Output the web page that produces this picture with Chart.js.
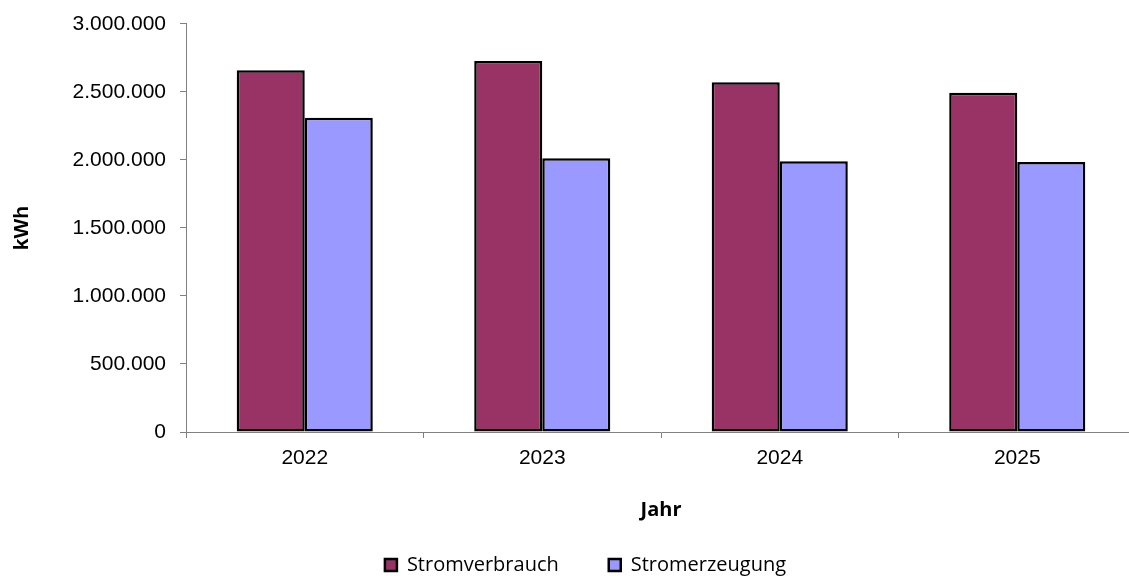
<!DOCTYPE html>
<html lang="de">
<head>
<meta charset="utf-8">
<title>Stromverbrauch und Stromerzeugung</title>
<script src="https://cdn.jsdelivr.net/npm/chart.js@4/dist/chart.umd.min.js"></script>
<style>
  html, body { margin: 0; padding: 0; background: #fff; overflow: hidden; }
  #wrap { position: relative; width: 1136px; height: 576px; }
</style>
</head>
<body>
<div id="wrap"><canvas id="energy-chart"></canvas></div>
<script>
const years = ["2022", "2023", "2024", "2025"];
const consumption = [2660000, 2728000, 2572000, 2495000];
const production = [2310000, 2013000, 1990000, 1985000];
const yTicks = [0, 500000, 1000000, 1500000, 2000000, 2500000, 3000000];

// deutsche Tausenderpunkte
function fmt(v) {
  return String(v).replace(/\B(?=(\d{3})+(?!\d))/g, ".");
}

// Legende etwas flacher machen, damit sie unten sitzt
const legendHeight = {
  id: "legendHeight",
  beforeLayout(chart) {
    const lg = chart.legend;
    if (!lg || lg._patched) return;
    const orig = lg.fit;
    lg.fit = function () {
      orig.call(this);
      this.height = 71;
    };
    lg._patched = true;
  },
};

const ctx = document.getElementById("energy-chart").getContext("2d");
new Chart(ctx, {
  type: "bar",
  data: {
    labels: years,
    datasets: [
      {
        label: "Stromverbrauch",
        data: consumption,
        backgroundColor: "#993366",
        borderColor: "#000000",
        borderWidth: 2.5,
        borderSkipped: false,
      },
      {
        label: "Stromerzeugung",
        data: production,
        backgroundColor: "#9999FF",
        borderColor: "#000000",
        borderWidth: 2.5,
        borderSkipped: false,
      },
    ],
  },
  options: {
    responsive: true,
    maintainAspectRatio: false,
    animation: false,
    layout: { padding: { left: 35, top: 18, right: 0, bottom: 0 } },
    datasets: { bar: { categoryPercentage: 0.573, barPercentage: 1 } },
    plugins: {
      tooltip: { enabled: false },
      legend: {
        position: "bottom",
        labels: {
          boxWidth: 12,
          boxHeight: 12,
          padding: 50,
          color: "#000",
          font: { family: "'Open Sans'", size: 20 },
        },
      },
    },
    scales: {
      x: {
        grid: { drawOnChartArea: false, drawTicks: true, tickLength: 6, color: "#808080", offset: true },
        border: { display: true, color: "#808080", width: 1 },
        ticks: { color: "#000", padding: 8, font: { family: "'Liberation Sans'", size: 21 } },
        title: {
          display: true,
          text: "Jahr",
          color: "#000",
          font: { family: "'Open Sans'", size: 20, weight: "bold" },
          padding: { top: 0, bottom: -17 },
        },
        afterFit(scale) { scale.height = 73; },
      },
      y: {
        min: 0,
        max: 3000000,
        afterBuildTicks(scale) { scale.ticks = yTicks.map(v => ({ value: v })); },
        grid: { drawOnChartArea: false, drawTicks: true, tickLength: 6, color: "#808080" },
        border: { display: true, color: "#808080", width: 1 },
        ticks: {
          color: "#000",
          padding: 14,
          font: { family: "'Liberation Sans'", size: 21, lineHeight: 0.95 },
          callback: v => fmt(v),
        },
        title: {
          display: true,
          text: "kWh",
          color: "#000",
          font: { family: "'Liberation Sans'", size: 21, weight: "bold" },
          padding: { top: -25.6, bottom: 0 },
        },
        afterFit(scale) { scale.width = 151; },
      },
    },
  },
  plugins: [legendHeight],
});
</script>
</body>
</html>
